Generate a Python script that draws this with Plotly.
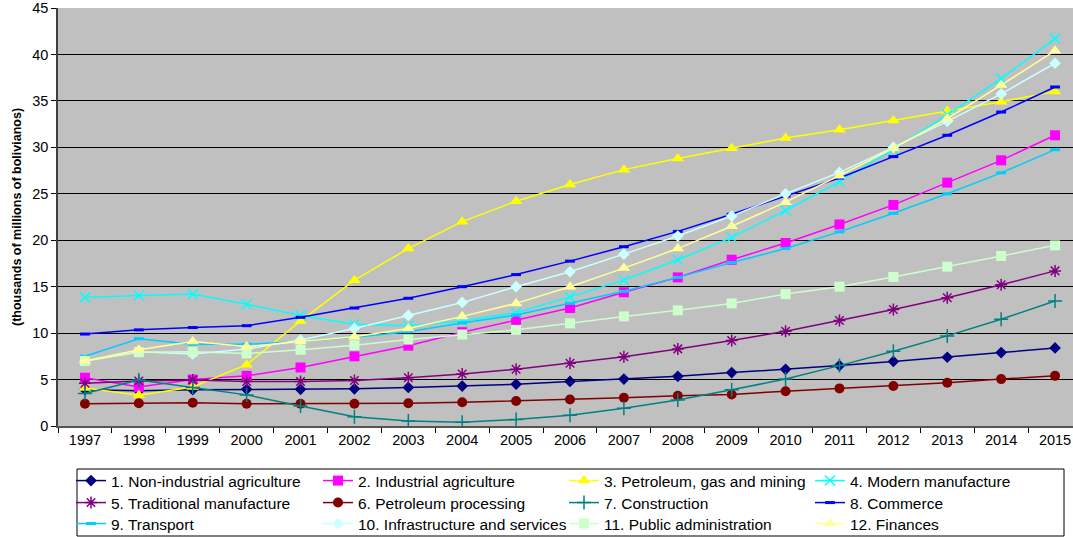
import plotly.graph_objects as go

years = [str(y) for y in range(1997, 2016)]

non_industrial_agriculture = [3.9, 3.8, 3.9, 3.95, 3.95, 4.0, 4.15, 4.3, 4.5, 4.8, 5.05, 5.35, 5.75, 6.1, 6.5, 6.95, 7.4, 7.9, 8.4]
industrial_agriculture = [5.2, 4.2, 5.0, 5.4, 6.3, 7.5, 8.65, 10.1, 11.4, 12.7, 14.4, 16.0, 17.9, 19.7, 21.7, 23.8, 26.2, 28.6, 31.3]
petroleum_gas_mining = [4.1, 3.3, 4.2, 6.6, 11.3, 15.7, 19.1, 22.0, 24.2, 26.0, 27.6, 28.8, 29.9, 31.0, 31.9, 32.9, 33.9, 34.9, 36.0]
modern_manufacture = [13.85, 14.05, 14.2, 13.1, 11.9, 10.95, 10.8, 11.3, 12.2, 13.9, 15.7, 17.9, 20.3, 23.2, 26.3, 29.8, 33.5, 37.4, 41.7]
traditional_manufacture = [4.6, 4.85, 4.95, 4.8, 4.8, 4.9, 5.2, 5.6, 6.1, 6.75, 7.45, 8.3, 9.2, 10.2, 11.35, 12.55, 13.8, 15.2, 16.7]
petroleum_processing = [2.4, 2.45, 2.5, 2.4, 2.4, 2.4, 2.45, 2.55, 2.7, 2.85, 3.05, 3.25, 3.4, 3.75, 4.05, 4.3, 4.65, 5.05, 5.4]
construction = [3.5, 4.95, 4.15, 3.35, 2.15, 1.0, 0.55, 0.4, 0.7, 1.15, 1.9, 2.8, 3.9, 5.05, 6.5, 8.05, 9.7, 11.5, 13.45]
commerce = [9.9, 10.35, 10.6, 10.8, 11.7, 12.7, 13.75, 15.0, 16.3, 17.75, 19.3, 20.95, 22.8, 24.75, 26.7, 29.0, 31.3, 33.8, 36.5]
transport = [7.5, 9.4, 8.8, 8.8, 9.1, 9.55, 10.15, 11.1, 11.95, 13.2, 14.5, 16.0, 17.6, 19.1, 20.9, 22.9, 25.0, 27.25, 29.75]
infrastructure_services = [7.0, 8.0, 7.75, 8.3, 9.25, 10.5, 11.9, 13.3, 15.0, 16.6, 18.5, 20.45, 22.6, 25.0, 27.3, 30.0, 32.8, 35.75, 39.05]
public_administration = [7.0, 7.95, 8.0, 7.8, 8.2, 8.7, 9.3, 9.85, 10.35, 11.05, 11.8, 12.45, 13.2, 14.2, 15.0, 16.05, 17.15, 18.3, 19.45]
finances = [7.0, 8.2, 9.1, 8.55, 9.1, 9.6, 10.5, 11.8, 13.2, 15.0, 17.0, 19.1, 21.5, 24.1, 26.95, 29.9, 33.1, 36.7, 40.4]

# (legend name, values, colour, marker symbol, marker size, outline-only marker)
series = [
    ("1. Non-industrial agriculture", non_industrial_agriculture, "#000080", "diamond", 9, False),
    ("2. Industrial agriculture", industrial_agriculture, "#FF00FF", "square", 10, False),
    ("3. Petroleum, gas and mining", petroleum_gas_mining, "#FFFF00", "triangle-up", 11, False),
    ("4. Modern manufacture", modern_manufacture, "#00FFFF", "x-thin-open", 10, True),
    ("5. Traditional manufacture", traditional_manufacture, "#800080", "asterisk-open", 10, True),
    ("6. Petroleum processing", petroleum_processing, "#800000", "circle", 10, False),
    ("7. Construction", construction, "#008080", "cross-thin-open", 10, True),
    ("8. Commerce", commerce, "#0000FF", "line-ew-open", 7, True),
    ("9. Transport", transport, "#00CCFF", "line-ew-open", 7, True),
    ("10. Infrastructure and services", infrastructure_services, "#CCFFFF", "diamond", 9, False),
    ("11. Public administration", public_administration, "#CCFFCC", "square", 10, False),
    ("12. Finances", finances, "#FFFF99", "triangle-up", 11, False),
]

font = "Liberation Sans, Arial, sans-serif"

# plot area spans 58..1073 px horizontally and 8..426 px vertically
def px_x(px):
    return (px - 58) / 1015

def px_y(px):
    return (426 - px) / 418

# legend grid: 4 columns x 3 rows, one small legend per entry
col_left = [71, 318, 564, 810]
row_mid = [481, 503, 524]

fig = go.Figure()
legends = {}
for i, (name, values, color, symbol, size, open_marker) in enumerate(series):
    marker = dict(symbol=symbol, size=size, color=color)
    if open_marker:
        marker["line"] = dict(color=color, width=3 if symbol.startswith("line") else 1.5)
    else:
        marker["line"] = dict(width=0)
    legend_id = "legend" if i == 0 else f"legend{i + 1}"
    fig.add_trace(go.Scatter(
        x=years, y=values, name=name, mode="lines+markers",
        line=dict(color=color, width=1.5), marker=marker,
        legend=legend_id,
    ))
    legends[legend_id] = dict(
        orientation="v",
        x=px_x(col_left[i % 4]), xanchor="left",
        y=px_y(row_mid[i // 4]), yanchor="middle",
        borderwidth=0,
        bgcolor="rgba(0,0,0,0)",
        font=dict(family=font, size=15.5, color="black"),
        itemwidth=30,
    )

fig.update_layout(
    width=1073, height=537,
    margin=dict(l=58, r=0, t=8, b=111, autoexpand=False),
    paper_bgcolor="white",
    plot_bgcolor="#C0C0C0",
    font=dict(family=font, size=14.5, color="black"),
    showlegend=True,
    xaxis=dict(
        type="category",
        range=[-0.5, 18.333],
        tickson="boundaries",
        ticks="outside", ticklen=5, tickcolor="black",
        showgrid=False,
        showline=True, linecolor="#555555", linewidth=2,
        tickfont=dict(family=font, size=14.5, color="black"),
        fixedrange=True,
    ),
    yaxis=dict(
        range=[0, 45], dtick=5,
        ticks="outside", ticklen=5, tickcolor="black",
        showgrid=True, gridcolor="black", gridwidth=1,
        showline=True, linecolor="#404040", linewidth=1.5,
        zeroline=False,
        tickfont=dict(family=font, size=14.5, color="black"),
        fixedrange=True,
    ),
    shapes=[dict(
        type="rect", xref="paper", yref="paper",
        x0=px_x(77), x1=px_x(1064), y0=px_y(536), y1=px_y(469),
        line=dict(color="black", width=1), fillcolor="rgba(0,0,0,0)",
        layer="above",
    )],
    annotations=[dict(
        text="<b>(thousands of millions of bolivianos)</b>",
        xref="paper", yref="paper",
        x=px_x(17), y=0.5, xanchor="center", yanchor="middle",
        textangle=-90, showarrow=False,
        font=dict(family=font, size=12.5, color="black"),
    )],
)
fig.update_layout(**legends)

fig.write_html("out.html")
